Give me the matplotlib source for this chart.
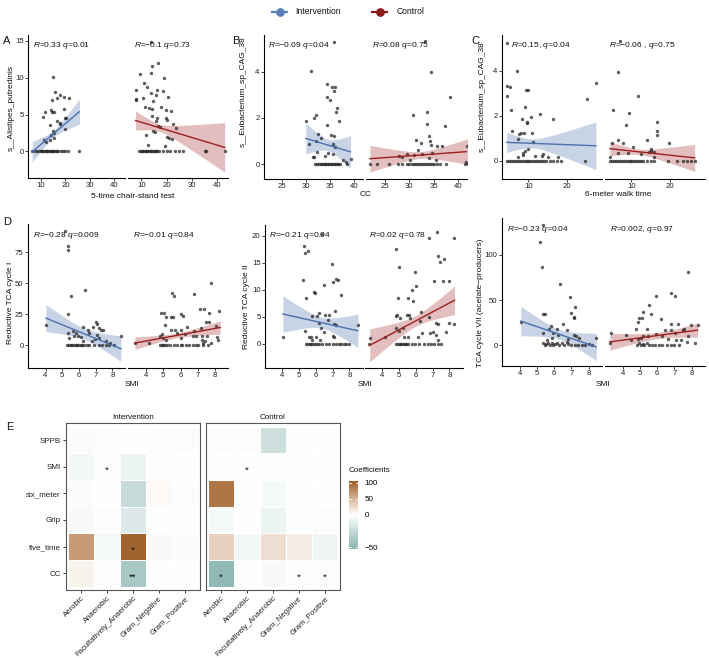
import numpy as np
import matplotlib
matplotlib.use("Agg")
import matplotlib.pyplot as plt
from matplotlib.colors import LinearSegmentedColormap, TwoSlopeNorm
from matplotlib.cm import ScalarMappable

plt.rcParams['font.family'] = ['Liberation Sans', 'DejaVu Sans']
plt.rcParams['mathtext.fontset'] = 'custom'
plt.rcParams['mathtext.it'] = 'Liberation Sans:italic'
plt.rcParams['mathtext.rm'] = 'Liberation Sans'

# ---------------- data ----------------
A_int_pts = [(15.1,10.1),(15.9,8.0),(17.9,7.6),(19.6,7.4),(21.5,7.3),(14.5,7.0),(16.6,7.2),(14.2,5.6),(14.5,5.4),(11.5,5.4),
             (11.0,4.7),(15.4,5.4),(16.4,4.1),(17.6,3.8),(17.9,3.7),(13.5,3.6),(19.3,5.7),(19.9,4.6),(20.3,4.5),(19.7,3.0),
             (14.9,2.8),(15.5,2.5),(14.2,2.3),(13.5,1.6),(15.3,1.8),(11.1,1.6),(11.9,1.3),
             (6.5,0),(7.5,0),(8.5,0),(9,0),(10,0),(10.5,0),(11,0),(11.5,0),(12,0),(12.5,0),(13,0),(13.5,0),(14,0),(14.5,0),
             (15,0),(15.5,0),(16,0),(16.5,0),(17,0),(18,0),(19,0),(20,0),(21,0),(25.4,0)]
A_ctl_pts = [(16.7,12.0),(14.3,11.6),(13.8,10.7),(9.3,10.5),(18.8,9.9),(11.2,9.3),(12.4,8.7),(16.3,8.3),(7.8,8.3),(13.8,7.9),
             (18.7,8.2),(15.6,7.7),(10.6,7.2),(7.8,7.0),(8.0,7.1),(20.7,7.4),(14.6,6.8),(17.6,6.1),(11.3,6.1),(13.0,5.9),
             (14.1,5.8),(19.6,5.6),(21.6,5.5),(14.3,4.8),(16.3,4.6),(19.6,4.5),(20.3,4.3),(15.6,4.1),(22.6,3.7),(16.7,3.5),
             (17.2,3.3),(23.9,3.2),(14.7,2.8),(15.4,2.6),(11.7,2.3),(20.0,2.0),(20.9,1.8),(22.2,1.7),(19.2,0.7),(12.8,0.9),
             (13.8,14.9),
             (9.2,0),(9.8,0),(10.3,0),(10.8,0),(11.3,0),(11.8,0),(12.3,0),(12.8,0),(13.3,0),(13.8,0),(14.3,0),(14.8,0),
             (15.3,0),(15.8,0),(16.3,0),(17,0),(18.5,0),(20,0),(21.5,0),(23.5,0),(25,0),(26.5,0),(35,0),(35.5,0),(43,0)]
B_int_pts = [(31.0,4.03),(35.8,5.28),(34.4,3.49),(35.3,3.36),(36.0,3.36),(35.8,3.17),(34.4,2.92),(34.9,2.80),(36.3,2.41),
             (36.1,2.26),(32.0,2.12),(31.5,2.0),(29.9,1.85),(36.8,1.85),(34.4,1.68),(35.1,1.24),(35.8,1.23),(32.5,1.31),
             (33.1,1.15),(32.0,0.98),(30.6,0.86),(35.6,0.88),(35.9,0.76),(32.2,0.51),(34.5,0.47),(35.6,0.44),(31.4,0.32),
             (33.8,0.35),(37.6,0.18),(38.2,0.10),(39.2,0.20),(31.7,0.32),
             (31.8,0),(32.2,0),(32.6,0),(33.0,0),(33.3,0),(33.6,0),(33.9,0),(34.2,0),(34.5,0),(34.8,0),(35.1,0),(35.4,0),
             (35.7,0),(36.0,0),(36.3,0),(36.6,0),(37.0,0),(38.5,0)]
B_ctl_pts = [(34.4,4.0),(33.2,5.36),(38.3,2.9),(30.7,2.13),(33.6,2.25),(33.6,1.75),(37.4,1.63),(31.3,1.05),(34.1,1.2),
             (32.4,0.93),(34.2,0.98),(34.5,0.83),(35.7,0.79),(36.7,0.8),(41.9,0.8),(31.9,0.61),(32.7,0.44),(29.6,0.42),
             (31.0,0.39),(34.6,0.47),(27.9,0.36),(28.6,0.32),(34.1,0.25),(30.2,0.18),(35.5,0.18),(41.6,0.07),
             (22,0),(23.5,0),(25.8,0),(27.8,0),(28.5,0),(29.5,0),(30,0),(30.5,0),(31,0),(31.4,0),(31.8,0),(32.2,0),
             (32.6,0),(33,0),(33.4,0),(33.8,0),(34.2,0),(34.6,0),(35,0),(35.6,0),(36.3,0),(37.5,0),(41.3,0),(42,0)]
C_int_pts = [(4.5,5.25),(7.0,4.01),(4.5,3.34),(5.2,3.28),(9.3,3.15),(10.0,3.15),(4.3,2.9),(27.6,3.46),(25.4,2.75),
             (9.1,2.39),(5.4,2.24),(13.0,2.09),(10.6,1.97),(16.3,1.85),(8.4,1.85),(9.6,1.73),(9.7,1.67),(5.7,1.33),
             (7.6,1.18),(8.0,1.22),(7.2,0.99),(8.8,1.22),(10.9,1.22),(11.1,0.85),(10.0,0.52),(9.1,0.45),(8.7,0.36),
             (8.5,0.28),(13.9,0.30),(13.5,0.21),(11.7,0.21),(15.2,0.18),(17.8,0.18),(7.4,0.18),
             (4.5,0),(5,0),(5.5,0),(6,0),(6.5,0),(7,0),(7.5,0),(8,0),(8.5,0),(9,0),(9.5,0),(10,0),(10.5,0),(11,0),
             (11.5,0),(12,0),(12.5,0),(13,0),(13.5,0),(14,0),(14.5,0),(15.5,0),(16.5,0),(17.5,0),(18.5,0),(24.8,0)]
C_ctl_pts = [(7.0,5.33),(6.5,3.96),(11.8,2.87),(5.2,2.24),(9.4,2.12),(8.5,1.6),(16.6,1.72),(16.8,1.34),(16.6,1.15),
             (14.0,0.93),(19.7,0.78),(6.5,0.93),(5.0,0.81),(7.7,0.78),(10.4,0.63),(15.1,0.52),(15.0,0.43),(14.7,0.40),
             (16.0,0.37),(6.5,0.33),(9.2,0.36),(12.5,0.30),(4.5,0.18),(16.0,0.18),
             (4.4,0),(5,0),(5.5,0),(6,0),(6.5,0),(7,0),(7.5,0),(8,0),(8.5,0),(9,0),(9.5,0),(10,0),(10.5,0),(11,0),
             (11.5,0),(12,0),(12.5,0),(13,0),(14,0),(15,0),(16,0),(19.6,0),(22,0),(23.5,0),(24.5,0),(25.5,0),(26.5,0)]
D1_int_pts = [(5.17,92.5),(5.33,80),(5.33,77),(6.37,44.6),(5.51,40),(5.35,25.3),(4.02,16.4),(6.99,18.3),(7.05,16.9),
              (6.25,15),(6.51,12.4),(6.81,14.2),(7.21,13.7),(7.32,12.4),(7.42,11.8),(6.57,9.7),(5.62,11.6),(5.82,9.7),
              (5.36,9.7),(5.92,7),(6.12,6.5),(5.68,7.5),(5.42,5.6),(8.5,7),(7.08,8.3),(7.18,5.6),(6.95,4.8),(6.75,3),
              (6.25,3),(7.64,3),(7.84,1.6),
              (5.3,0),(5.4,0),(5.5,0),(5.6,0),(5.7,0),(5.8,0),(5.9,0),(6.0,0),(6.1,0),(6.2,0),(6.3,0),(6.5,0),(6.6,0),
              (6.9,0),(7.2,0),(7.4,0),(7.6,0),(7.8,0),(8.1,0)]
D1_ctl_pts = [(7.77,50),(5.5,42.5),(5.61,40),(6.8,41.4),(7.11,29),(7.36,29),(4.89,26.3),(5.03,26.3),(6.0,25),(6.14,23.9),
              (5.18,23.1),(5.42,23.1),(5.55,23.1),(8.23,27.7),(7.65,25.8),(7.5,18.8),(7.65,18.8),(5.11,16.4),(6.39,15),
              (8.04,15.6),(6.0,12.4),(5.42,12.4),(5.65,12.4),(7.17,13.7),(6.78,11),(5.81,9.7),(6.23,8.9),(6.72,7.5),
              (6.87,7),(7.26,7.5),(7.55,7),(4.93,9.1),(4.83,7),(4.99,5.6),(6.0,5.6),(8.14,6.2),(8.17,4.3),(3.38,1.6),
              (4.19,1.6),(5.13,4.3),(7.26,4.3),(7.4,3),(7.32,1.6),(7.75,1.6),
              (4.8,0),(4.9,0),(5.0,0),(5.1,0),(5.2,0),(5.4,0),(5.6,0),(5.8,0),(6.0,0),(6.1,0),(6.3,0),(6.5,0),(6.7,0),
              (6.9,0),(7.0,0),(7.3,0),(7.6,0)]
D2_int_pts = [(6.4,20.4),(5.33,18.1),(5.39,16.9),(5.54,17.2),(6.97,14.8),(5.25,11.8),(7.19,12.0),(7.31,11.8),(7.01,11.5),
              (5.9,9.6),(5.96,9.4),(6.48,10.8),(7.47,9.1),(5.41,8.5),(6.05,5.1),(6.18,5.6),(6.57,5.4),(6.77,5.4),
              (7.17,6.0),(5.78,5.1),(6.73,4.4),(6.18,3.9),(7.23,3.5),(7.11,3.7),(8.5,3.4),(6.32,3.0),(5.39,2.4),
              (6.48,2.1),(4.06,1.3),(5.58,1.3),(5.74,1.3),(6.04,1.3),(7.01,1.5),(7.11,1.2),(6.28,0.7),(5.78,0.7),
              (5.45,0),(5.55,0),(5.65,0),(5.75,0),(5.85,0),(5.95,0),(6.1,0),(6.2,0),(6.4,0),(6.6,0),(6.8,0),(7.0,0),
              (7.2,0),(7.35,0),(7.5,0),(7.65,0),(7.8,0),(8.0,0)]
D2_ctl_pts = [(7.28,20.7),(6.81,19.5),(8.29,19.5),(4.84,17.6),(5.0,14.3),(7.32,16.2),(7.43,15.2),(7.67,15.7),(5.94,13.2),
              (8.0,11.7),(7.61,11.7),(7.07,11.7),(6.03,10.7),(5.76,9.9),(5.52,8.4),(4.96,8.5),(5.85,7.9),(4.88,5.4),
              (4.84,5.2),(5.07,4.7),(5.46,5.4),(5.62,5.3),(6.3,5.9),(6.79,5.0),(7.18,3.9),(7.34,3.7),(8.25,3.7),
              (7.96,3.8),(6.24,4.3),(5.68,4.7),(4.84,2.9),(5.0,2.4),(5.23,2.9),(6.4,2.0),(7.03,2.1),(6.85,2.0),
              (7.18,1.6),(7.77,2.1),(3.28,1.0),(4.2,1.3),(5.33,1.3),(5.52,1.3),(6.11,1.2),(7.34,0.7),
              (3.25,0),(4.85,0),(4.95,0),(5.05,0),(5.15,0),(5.25,0),(5.35,0),(5.45,0),(5.55,0),(5.8,0),(5.95,0),
              (6.2,0),(6.5,0),(6.7,0),(6.9,0),(7.1,0),(7.3,0),(7.5,0)]
D3_int_pts = [(5.33,133),(5.17,114),(5.31,87),(6.34,68),(6.93,53),(7.24,42),(6.97,36),(7.13,31.5),(7.18,30.4),(5.33,35),
              (5.46,35),(4.06,26),(6.54,23.3),(5.8,21),(5.72,18.5),(6.19,18.5),(6.74,16.7),(7.13,11),(7.29,10),
              (7.42,8.5),(8.45,8.5),(6.25,11),(5.95,13),(5.37,13.7),(6.83,7.4),(5.85,8.5),(6.73,3.7),(5.56,5.6),
              (5.35,2),(5.45,0),(5.55,1),(5.65,3),(5.75,0),(5.85,2),(5.95,0),(6.05,1),(6.15,3),(6.3,0),(6.45,2),
              (6.6,0),(6.8,1),(7.0,0),(7.2,0),(7.4,0),(7.6,0),(7.8,0),(8.0,1),(8.2,0)]
D3_ctl_pts = [(7.82,81.5),(6.82,58),(7.06,54.4),(5.94,54.4),(5.51,44.4),(5.2,37),(5.65,34),(6.2,28.5),(4.92,29.6),
              (5.1,29.6),(4.86,26),(6.82,23),(7.22,23),(7.96,22.2),(8.35,22.2),(4.8,17.4),(5.39,18.5),(6.43,16.7),
              (6.78,16.7),(7.51,16.7),(7.57,18.5),(4.18,11),(5.2,10),(5.45,10.4),(5.94,11.9),(6.27,10),(7.06,13),
              (7.8,10.4),(3.29,13),(3.25,2.6),(4.47,5.6),(4.86,7.4),(5.06,8.5),(6.63,7.4),(7.12,6.3),(7.37,5.6),
              (7.71,3.7),(8.2,3),
              (4.85,0),(4.95,2),(5.05,0),(5.15,1),(5.25,0),(5.4,3),(5.55,0),(5.7,0),(5.9,0),(6.1,0),(6.3,0),(6.55,0),
              (6.8,0),(7.0,0),(7.25,0)]

# fitted lm lines: x range, y at ends, CI half-width (start, minimum, end)
A_int_fit = ([6.4, 25.7], [-0.05, 5.4], [1.4, 0.45, 1.7])
A_ctl_fit = ([7.7, 43.0], [4.2, 0.55], [1.3, 0.5, 3.35])
B_int_fit = ([29.9, 39.2], [1.11, 0.53], [0.68, 0.25, 0.7])
B_ctl_fit = ([22.0, 41.9], [0.23, 0.54], [0.58, 0.15, 0.55])
C_int_fit = ([4.3, 27.6], [0.82, 0.67], [0.45, 0.2, 1.06])
C_ctl_fit = ([4.4, 26.5], [0.54, 0.13], [0.32, 0.12, 0.6])
D1_int_fit = ([4.02, 8.5], [21.8, -3.0], [11.0, 4.5, 10.4])
D1_ctl_fit = ([3.35, 8.3], [1.6, 14.2], [5.1, 2.0, 5.4])
D2_int_fit = ([4.06, 8.5], [5.5, 2.4], [3.35, 1.0, 3.1])
D2_ctl_fit = ([3.28, 8.3], [-0.3, 8.05], [3.05, 1.0, 2.65])
D3_int_fit = ([4.06, 8.45], [26.7, -1.9], [16.3, 5.5, 15.2])
D3_ctl_fit = ([3.25, 8.35], [3.7, 16.7], [9.3, 3.5, 7.8])

A_labels = ["$R$=0.33 $q$=0.01", "$R$=\u22120.1 $q$=0.73"]
B_labels = ["$R$=\u22120.09 $q$=0.04", "$R$=0.08 $q$=0.75"]
C_labels = ["$R$=0.15, $q$=0.04", "$R$=\u22120.06 , $q$=0.75"]
D1_labels = ["$R$=\u22120.28 $q$=0.009", "$R$=\u22120.01 $q$=0.84"]
D2_labels = ["$R$=\u22120.21 $q$=0.04", "$R$=0.02 $q$=0.78"]
D3_labels = ["$R$=\u22120.23 $q$=0.04", "$R$=0.002, $q$=0.97"]

groups = ["Intervention", "Control"]
heat_rows = ["SPPB", "SMI", "six_meter", "Grip", "five_time", "CC"]
heat_cols = ["Aerobic", "Anaerobic", "Facultatively_Anaerobic", "Gram_Negative", "Gram_Positive"]
coef_intervention = [[3, 2, 0, 1, 2],
                     [-5, 2, -8, 0, 0],
                     [3, 0, -25, 4, -2],
                     [-3, -2, -15, -1, 0],
                     [66, -4, 100, -3, 3],
                     [8, 1, -38, 0, 0]]
coef_control = [[-2, 2, -22, 0, 0],
                [0, 0, 0, 0, 0],
                [88, 0, -4, 0, 0],
                [-4, 0, -8, -1, 2],
                [30, -6, 22, 12, -7],
                [-48, 0, -3, -1, -2]]
sig_intervention = [["", "", "", "", ""], ["", "*", "", "", ""], ["", "", "", "", ""],
                    ["", "", "", "", ""], ["", "", "*", "", ""], ["", "", "**", "", ""]]
sig_control = [["", "", "", "", ""], ["", "*", "", "", ""], ["", "", "", "", ""],
               ["", "", "", "", ""], ["", "", "", "", ""], ["*", "", "", "*", "*"]]

# ---------------- style ----------------
BLUE = "#4a70ad"
RED = "#9c1f1f"
BAND_BLUE = "#4a70ad"
BAND_RED = "#a52a2a"
FS_TICK = 5.6
FS_LAB = 6.0

W, H = 709, 658
fig = plt.figure(figsize=(W / 100, H / 100), dpi=100)


def box(x0, y0, x1, y1):
    return [x0 / W, 1 - y1 / H, (x1 - x0) / W, (y1 - y0) / H]


ov = fig.add_axes([0, 0, 1, 1])
ov.set_xlim(0, W)
ov.set_ylim(H, 0)
ov.axis("off")


def band(fit):
    (xs, xe), (ys, ye), (hs, h0, he) = fit
    r = np.sqrt((hs ** 2 - h0 ** 2) / (he ** 2 - h0 ** 2))
    xc = (xs + r * xe) / (1 + r)
    c = (hs ** 2 - h0 ** 2) / (xc - xs) ** 2
    xx = np.linspace(xs, xe, 120)
    yy = ys + (ye - ys) * (xx - xs) / (xe - xs)
    hw = np.sqrt(h0 ** 2 + c * (xx - xc) ** 2)
    return xx, yy, hw


def scatter_panel(xb, yb, xlim, ylim, xticks, yticks, pts_list, fits, labels, lab_pos):
    for i in range(2):
        ax = fig.add_axes(box(xb[i][0], yb[0], xb[i][1], yb[1]))
        ax.set_facecolor("none")
        col = BLUE if i == 0 else RED
        bcol = BAND_BLUE if i == 0 else BAND_RED
        xx, yy, hw = band(fits[i])
        ax.fill_between(xx, yy - hw, yy + hw, color=bcol, alpha=0.3, lw=0, zorder=1)
        px = [p[0] for p in pts_list[i]]
        py = [p[1] for p in pts_list[i]]
        ax.scatter(px, py, s=6, color="#222222", alpha=0.72, lw=0, zorder=2)
        ax.plot(xx, yy, color=col, lw=1.0, zorder=3)
        ax.set_xlim(*xlim)
        ax.set_ylim(*ylim)
        ax.set_xticks(xticks)
        ax.set_yticks(yticks)
        for s in ["top", "right"]:
            ax.spines[s].set_visible(False)
        ax.spines["bottom"].set_linewidth(0.8)
        ax.spines["left"].set_linewidth(0.8)
        ax.tick_params(length=2, width=0.6, labelsize=FS_TICK, pad=1.2, colors="#222222")
        if i == 1:
            ax.spines["left"].set_visible(False)
            ax.tick_params(axis="y", left=False, labelleft=False)
        ax.text(lab_pos[i][0], lab_pos[i][1], labels[i], transform=ax.transAxes,
                fontsize=FS_LAB, ha="left", va="center", color="#111111", zorder=4)


scatter_panel([(28, 125), (128, 228)], (35, 178), (4.7, 44.3), (-3.6, 15.8), [10, 20, 30, 40], [0, 5, 10, 15],
              [A_int_pts, A_ctl_pts], [A_int_fit, A_ctl_fit], A_labels, [(0.05, 0.925), (0.055, 0.925)])
scatter_panel([(264, 363), (366, 467)], (35, 179), (21.2, 41.8), (-0.65, 5.6), [25, 30, 35, 40], [0, 2, 4],
              [B_int_pts, B_ctl_pts], [B_int_fit, B_ctl_fit], B_labels, [(0.045, 0.925), (0.056, 0.925)])
scatter_panel([(502, 602), (605, 705)], (35, 179), (3.1, 29.2), (-0.81, 5.6), [10, 20], [0, 2, 4],
              [C_int_pts, C_ctl_pts], [C_int_fit, C_ctl_fit], C_labels, [(0.087, 0.925), (0.043, 0.925)])
scatter_panel([(28, 125), (128, 228)], (224, 368), (2.95, 8.75), (-18.6, 98), [4, 5, 6, 7, 8], [0, 25, 50, 75],
              [D1_int_pts, D1_ctl_pts], [D1_int_fit, D1_ctl_fit], D1_labels, [(0.048, 0.92), (0.048, 0.92)])
scatter_panel([(265, 363), (365, 463)], (225, 368), (3.0, 8.8), (-4.5, 22), [4, 5, 6, 7, 8], [0, 5, 10, 15, 20],
              [D2_int_pts, D2_ctl_pts], [D2_int_fit, D2_ctl_fit], D2_labels, [(0.04, 0.93), (0.045, 0.93)])
scatter_panel([(502, 602), (605, 705)], (218, 366), (2.97, 8.78), (-23, 140.8), [4, 5, 6, 7, 8], [0, 50, 100],
              [D3_int_pts, D3_ctl_pts], [D3_int_fit, D3_ctl_fit], D3_labels, [(0.05, 0.925), (0.045, 0.925)])

# axis titles
xlabels = [(133, 196, "5-time chair-stand test"), (366, 195, "CC"), (618, 195, "6-meter walk time"),
           (132, 384, "SMI"), (365, 384, "SMI"), (603, 384, "SMI")]
for x, y, t in xlabels:
    ov.text(x, y, t, ha="center", va="center", fontsize=FS_LAB, color="#111111")
ylabels = [(11, 108, "s__Alistipes_putredinis"), (243, 92, "s__Eubacterium_sp_CAG_38"),
           (482, 97, "s__Eubacterium_sp_CAG_38"), (11, 303, "Reductive TCA cycle I"),
           (246, 307, "Reductive TCA cycle II"), (480, 303, "TCA cycle VII (acetate\u2212producers)")]
for x, y, t in ylabels:
    ov.text(x, y, t, ha="center", va="center", rotation=90, fontsize=FS_LAB, color="#111111")

# panel letters
for x, y, t in [(3, 41, "A"), (232, 41, "B"), (471, 41, "C"), (3, 222, "D"), (6, 427, "E")]:
    ov.text(x, y, t, ha="left", va="center", fontsize=8, color="#111111")

# legend
for (x0, x1, xd, xt, col, lab) in [(271.7, 287.3, 279.5, 295.7, "#5a80b8", "Intervention"),
                                   (371.7, 387.3, 379.5, 396.7, "#8e1b1b", "Control")]:
    ov.plot([x0, x1], [12, 12], color=col, lw=1.6)
    ov.scatter([xd], [12], s=28, color=col, zorder=3)
    ov.text(xt, 12, lab, ha="left", va="center", fontsize=6.2, color="#111111")

# ---------------- heatmap ----------------
norm = TwoSlopeNorm(vmin=-53, vcenter=0, vmax=106)
cmap = LinearSegmentedColormap.from_list(
    "coef", [(0.0, "#86b2ae"), (0.5, "#ffffff"), (0.736, "#d9b596"), (1.0, "#9a5a22")])

heat_boxes = [(65.7, 200), (205.7, 340)]
for k, (vals, sig) in enumerate([(coef_intervention, sig_intervention), (coef_control, sig_control)]):
    ax = fig.add_axes(box(heat_boxes[k][0], 423.3, heat_boxes[k][1], 590))
    arr = np.array(vals, dtype=float)
    ax.pcolormesh(np.arange(len(heat_cols) + 1) - 0.5, np.arange(len(heat_rows) + 1) - 0.5, arr,
                  cmap=cmap, norm=norm, edgecolors="white", linewidth=0.7)
    for i in range(len(heat_rows)):
        for j in range(len(heat_cols)):
            if sig[i][j]:
                ax.text(j, i + 0.14, sig[i][j], ha="center", va="center", fontsize=6.8, color="#111111")
    ax.set_xlim(-0.58, len(heat_cols) - 0.42)
    ax.set_ylim(len(heat_rows) - 0.37, -0.63)
    ax.set_xticks(range(len(heat_cols)))
    ax.set_xticklabels(heat_cols, rotation=45, ha="right", rotation_mode="anchor", fontsize=5.6)
    ax.set_yticks(range(len(heat_rows)))
    if k == 0:
        ax.set_yticklabels(heat_rows, fontsize=5.8)
    else:
        ax.tick_params(axis="y", left=False, labelleft=False)
    for s in ax.spines.values():
        s.set_color("#555555")
        s.set_linewidth(0.8)
    ax.tick_params(length=2, width=0.6, pad=1.5, colors="#222222")
    ax.set_title(groups[k], fontsize=5.8, pad=3, color="#111111")

cax = fig.add_axes(box(349, 480.7, 357.7, 549))
cb = fig.colorbar(ScalarMappable(norm=norm, cmap=cmap), cax=cax)
cb.outline.set_visible(False)
cb.set_ticks([-50, 0, 50, 100])
cb.set_ticklabels(["\u221250", "0", "50", "100"])
cax.tick_params(length=0, labelsize=5.8, pad=5)
for v in [-50, 0, 50, 100]:
    cax.axhline(v, xmin=0, xmax=0.22, color="white", lw=0.6)
    cax.axhline(v, xmin=0.78, xmax=1, color="white", lw=0.6)
ov.text(349, 470.5, "Coefficients", ha="left", va="center", fontsize=5.8, color="#111111")

fig.savefig("out.png", dpi=100)
